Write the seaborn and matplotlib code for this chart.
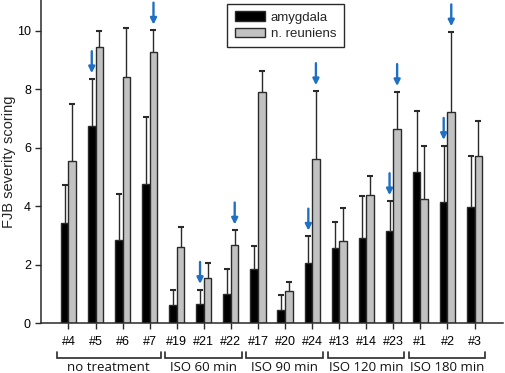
import numpy as np
import pandas as pd
import matplotlib
matplotlib.use("Agg")
import matplotlib.pyplot as plt
import matplotlib.transforms as mtransforms
import seaborn as sns

# ---------------- data ----------------
subjects = ["#4", "#5", "#6", "#7", "#19", "#21", "#22", "#17", "#20", "#24",
            "#13", "#14", "#23", "#1", "#2", "#3"]
groups = ["no treatment", "ISO 60 min", "ISO 90 min", "ISO 120 min", "ISO 180 min"]
group_sizes = [4, 3, 3, 3, 3]
regions = ["amygdala", "n. reuniens"]

amygdala = [3.42, 6.75, 2.85, 4.75, 0.64, 0.66, 1.00, 1.85, 0.45, 2.08,
            2.59, 2.91, 3.17, 5.18, 4.16, 3.99]
amygdala_err = [1.31, 1.60, 1.56, 2.30, 0.50, 0.49, 0.85, 0.81, 0.51, 0.89,
                0.89, 1.45, 1.01, 2.09, 1.91, 1.73]
reuniens = [5.55, 9.44, 8.42, 9.26, 2.62, 1.55, 2.69, 7.91, 1.09, 5.62,
            2.83, 4.37, 6.64, 4.26, 7.24, 5.72]
reuniens_err = [1.95, 0.54, 1.67, 0.75, 0.69, 0.51, 0.49, 0.71, 0.31, 2.32,
                1.10, 0.66, 1.27, 1.81, 2.71, 1.19]

# bars marked with a blue arrow: (subject, region)
marked = [("#5", "amygdala"), ("#7", "n. reuniens"), ("#21", "amygdala"),
          ("#22", "n. reuniens"), ("#24", "amygdala"), ("#24", "n. reuniens"),
          ("#23", "amygdala"), ("#23", "n. reuniens"), ("#2", "amygdala"),
          ("#2", "n. reuniens")]

df = pd.DataFrame({
    "subject": subjects * 2,
    "region": [regions[0]] * len(subjects) + [regions[1]] * len(subjects),
    "score": amygdala + reuniens,
})
errs = {regions[0]: amygdala_err, regions[1]: reuniens_err}

# ---------------- style ----------------
sns.set_style("ticks")
plt.rcParams["font.family"] = ["Liberation Sans", "DejaVu Sans"]
AX_COL = "#2a2a2a"
ARROW_COL = "#1f6fc2"

fig = plt.figure(figsize=(5.05, 3.73), dpi=100)
ax = fig.add_axes([0.082, 0.133, 0.914, 0.867])

sns.barplot(data=df, x="subject", y="score", hue="region", order=subjects,
            hue_order=regions, palette={"amygdala": "black", "n. reuniens": "#c2c2c2"},
            edgecolor=AX_COL, linewidth=1.0, width=0.56, gap=0, errorbar=None,
            saturation=1, ax=ax, zorder=2)

# error bars (upper only) & arrows
for cont, reg in zip(ax.containers, regions):
    xs = np.array([b.get_x() + b.get_width() / 2 for b in cont])
    hs = np.array([b.get_height() for b in cont])
    e = np.array(errs[reg])
    eb = ax.errorbar(xs, hs, yerr=[np.zeros_like(e), e], fmt="none",
                     ecolor=AX_COL, elinewidth=1.0, capsize=2.4, capthick=1.5,
                     zorder=3)
    eb[1][0].set_visible(False)
    for i, s in enumerate(subjects):
        if (s, reg) in marked:
            top = hs[i] + e[i]
            ax.annotate("", xy=(xs[i], top + 0.2), xytext=(xs[i], top + 0.95),
                        arrowprops=dict(arrowstyle="-|>", color=ARROW_COL,
                                        lw=1.7, mutation_scale=9,
                                        shrinkA=0, shrinkB=0))

ax.set_xlim(-1.0, 16.05)
ax.set_ylim(0, 11.05)
ax.set_yticks([0, 2, 4, 6, 8, 10])
ax.set_xlabel("")
ax.set_ylabel("FJB severity scoring", fontsize=10.5, labelpad=1)
ax.tick_params(axis="both", colors=AX_COL, labelcolor="black", labelsize=9,
               length=4, width=1.0, direction="out")
ax.tick_params(axis="x", pad=5)
for sp in ["top", "right"]:
    ax.spines[sp].set_visible(False)
for sp in ["left", "bottom"]:
    ax.spines[sp].set_color(AX_COL)
    ax.spines[sp].set_linewidth(1.1)

# group brackets
trans = mtransforms.blended_transform_factory(ax.transData, ax.transAxes)
start = 0
for g, n in zip(groups, group_sizes):
    x0, x1 = start - 0.43, start + n - 1 + 0.40
    ax.plot([x0, x0, x1, x1], [-0.089, -0.106, -0.106, -0.089], transform=trans,
            color=AX_COL, lw=1.2, clip_on=False, solid_joinstyle="miter")
    ax.text((x0 + x1) / 2, -0.135, g, transform=trans, ha="center", va="center",
            fontsize=9.5, family=["Open Sans", "DejaVu Sans"], color="#111")
    start += n

# legend
leg = ax.legend(loc="upper left", bbox_to_anchor=(0.403, 0.988), borderaxespad=0,
                fontsize=9.5, frameon=True, fancybox=False, edgecolor=AX_COL,
                framealpha=1, handlelength=2.3, handleheight=0.75,
                labelspacing=0.3, handletextpad=0.45, borderpad=0.55)
leg.get_frame().set_linewidth(1.0)
leg.set_title(None)

fig.savefig("out.png", dpi=100)
